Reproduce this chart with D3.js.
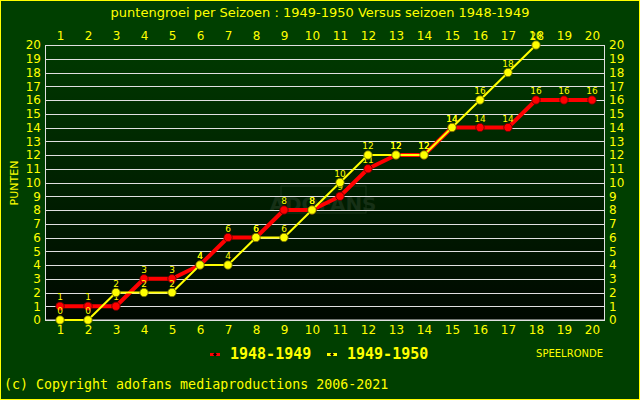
<!DOCTYPE html>
<html><head><meta charset="utf-8">
<script src="https://cdn.jsdelivr.net/npm/d3@7"></script>
<style>html,body{margin:0;padding:0;background:#003f00;}svg{display:block;}</style>
</head><body>
<script>
const rounds = d3.range(1, 21);
const season4849 = [1,1,1,3,3,4,6,6,8,8,9,11,12,12,14,14,14,16,16,16];
const season4950 = [0,0,2,2,2,4,4,6,6,8,10,12,12,12,14,16,18,20];
const yTicks = d3.range(0, 21);
const seriesNames = ["1948-1949", "1949-1950"];
const title = "puntengroei per Seizoen : 1949-1950 Versus seizoen 1948-1949";

const W = 640, H = 400;
const svg = d3.select("body").append("svg").attr("width", W).attr("height", H);
const YEL = "#ffff00";

svg.append("rect").attr("x",0.5).attr("y",0.5).attr("width",W-1).attr("height",H-1)
  .attr("fill","#003f00").attr("stroke",YEL).attr("stroke-width",1);

const defs = svg.append("defs");
const grad = defs.append("linearGradient").attr("id","pg").attr("x1",0).attr("y1",0).attr("x2",0).attr("y2",1);
grad.append("stop").attr("offset","0%").attr("stop-color","#003a00");
grad.append("stop").attr("offset","100%").attr("stop-color","#000800");

const x = d3.scaleLinear().domain([0.5, 20.5]).range([46, 606]);
const y = d3.scaleLinear().domain([0, 20]).range([320, 45]);

svg.append("rect").attr("x",45).attr("y",45).attr("width",560).attr("height",275).attr("fill","url(#pg)");

// watermark (behind grid)
svg.append("rect").attr("x",281).attr("y",186).attr("width",85).attr("height",27).attr("fill","none").attr("stroke","#183418").attr("stroke-width",1);
svg.append("text").attr("x",323).attr("y",211).attr("text-anchor","middle").attr("fill","#163016")
  .attr("font-family","DejaVu Sans").attr("font-weight","bold").attr("font-size",20).text("ADOFANS");

// gridlines
svg.append("g").selectAll("line").data(yTicks).join("line")
  .attr("x1",45).attr("x2",605).attr("y1",d=>Math.round(y(d))+0.5).attr("y2",d=>Math.round(y(d))+0.5)
  .attr("stroke","#e0e0e0").attr("stroke-width",1);
svg.append("rect").attr("x",45.5).attr("y",45.5).attr("width",559).attr("height",274.5)
  .attr("fill","none").attr("stroke","#e0e0e0").attr("stroke-width",1);

const fontAx = "DejaVu Sans";
const axTop = d3.axisTop(x).tickValues(rounds).tickSize(0).tickPadding(0);
const axBot = d3.axisBottom(x).tickValues(rounds).tickSize(0).tickPadding(0);
const axL = d3.axisLeft(y).tickValues(yTicks).tickSize(0).tickPadding(0);
const axR = d3.axisRight(y).tickValues(yTicks).tickSize(0).tickPadding(0);
function styleAx(g){ g.select(".domain").remove(); g.selectAll("text").attr("fill",YEL).attr("font-family",fontAx).attr("font-size",12); }
svg.append("g").attr("transform","translate(0,40)").call(axTop).call(styleAx);
svg.append("g").attr("transform","translate(0,325)").call(axBot).call(styleAx).selectAll("text").attr("dy","0.71em");
svg.append("g").attr("transform","translate(41,0)").call(axL).call(styleAx);
svg.append("g").attr("transform","translate(609,0)").call(axR).call(styleAx);

svg.append("text").attr("x",320).attr("y",17).attr("text-anchor","middle").attr("fill",YEL)
  .attr("font-family",fontAx).attr("font-size",13).text(title);
svg.append("text").attr("transform","translate(18,183) rotate(-90)").attr("text-anchor","middle").attr("fill",YEL)
  .attr("font-family",fontAx).attr("font-size",11).text("PUNTEN");

const line = d3.line().x((d,i)=>x(i+1)).y(d=>y(d));

function drawSeries(data, color, lw, outline){
  const g = svg.append("g");
  g.append("path").datum(data).attr("d",line).attr("fill","none").attr("stroke",color).attr("stroke-width",lw).attr("stroke-linejoin","round");
  g.selectAll("circle").data(data).join("circle").attr("cx",(d,i)=>x(i+1)).attr("cy",d=>y(d)).attr("r",4.2)
    .attr("fill",color).attr("stroke",outline).attr("stroke-width",0.8);
  g.selectAll("text").data(data).join("text").attr("x",(d,i)=>x(i+1)).attr("y",d=>y(d)-6)
    .attr("text-anchor","middle").attr("fill",YEL).attr("font-family",fontAx).attr("font-size",9).text(d=>d);
}
drawSeries(season4849, "#ff0000", 4, "#550000");
drawSeries(season4950, "#ffff00", 2, "#666600");

const legend = [{name:seriesNames[0], color:"#ff0000", x:210},{name:seriesNames[1], color:"#ffff00", x:327}];
legend.forEach(l=>{
  svg.append("rect").attr("x",l.x).attr("y",353).attr("width",10).attr("height",3).attr("fill",l.color);
  svg.append("path").attr("d",`M${l.x+3},354.5 L${l.x+5},352.5 L${l.x+7},354.5 L${l.x+5},356.5 Z`).attr("fill","#000");
  svg.append("text").attr("x",l.x+20).attr("y",359).attr("fill",YEL).attr("font-family","DejaVu Sans Mono")
    .attr("font-weight","bold").attr("font-size",15).text(l.name);
});
svg.append("text").attr("x",603).attr("y",357).attr("text-anchor","end").attr("fill",YEL)
  .attr("font-family",fontAx).attr("font-size",10).text("SPEELRONDE");
svg.append("text").attr("x",4).attr("y",389).attr("fill",YEL).attr("font-family","DejaVu Sans Mono")
  .attr("font-size",13.3).text("(c) Copyright adofans mediaproductions 2006-2021");
</script>
</body></html>
